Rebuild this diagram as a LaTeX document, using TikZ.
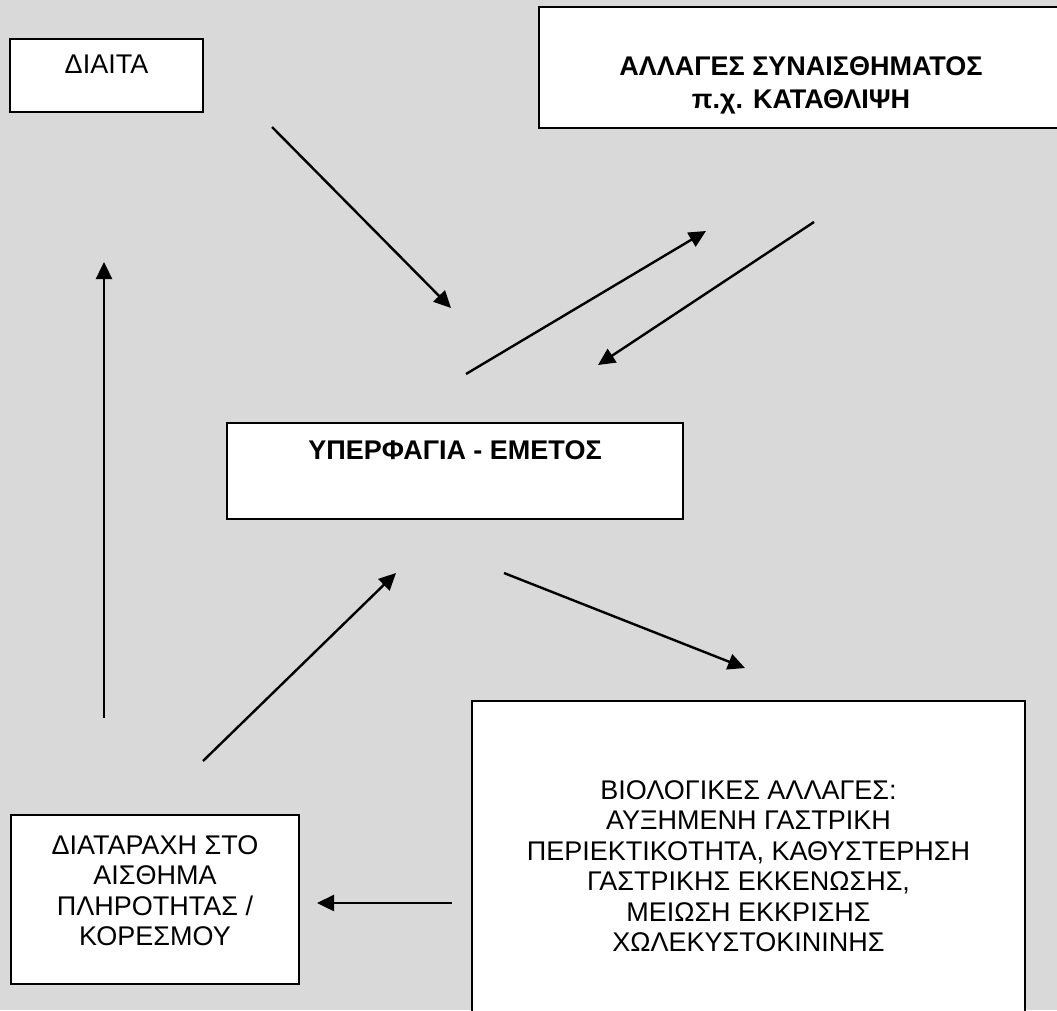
\documentclass[tikz,border=0pt]{standalone}
\usepackage{fontspec}
\setmainfont{Liberation Sans}
\usetikzlibrary{arrows.meta}
\definecolor{bg}{HTML}{D9D9D9}
\begin{document}
\begin{tikzpicture}[x=1pt,y=-1pt,
  box/.style={draw=black,fill=white,line width=2pt,rectangle,inner sep=0pt,outer sep=0pt},
  lbl/.style={inner sep=0pt,anchor=north,align=center,font=\fontsize{27}{30.5}\selectfont},
  blbl/.style={inner sep=0pt,anchor=north,align=center,font=\fontsize{27}{33}\selectfont\bfseries},
  conn/.style={line width=2.4pt,-{Triangle[length=17pt,width=16pt]}}]
\useasboundingbox (0,0) rectangle (1057,1010);
\clip (0,0) rectangle (1057,1010);
\fill[bg] (0,0) rectangle (1057,1010);
% boxes
\node[box,minimum width=193pt,minimum height=73pt] (diet) at (106.5,75.5) {};
\node[box,minimum width=526pt,minimum height=121pt] (emot) at (802,67.5) {};
\node[box,minimum width=456pt,minimum height=96pt] (binge) at (455,471) {};
\node[box,minimum width=553pt,minimum height=324pt] (bio) at (748.5,863) {};
\node[box,minimum width=288pt,minimum height=169pt] (sati) at (155,899.5) {};
% texts
\node[lbl] (dietT) at (106.5,55) {ΔΙΑΙΤΑ};
\node[blbl] (emotT) at (801,56) {ΑΛΛΑΓΕΣ ΣΥΝΑΙΣΘΗΜΑΤΟΣ\\π.χ. ΚΑΤΑΘΛΙΨΗ};
\node[blbl] (bingeT) at (455,440) {ΥΠΕΡΦΑΓΙΑ - ΕΜΕΤΟΣ};
\node[lbl] (bioT) at (748.5,780) {ΒΙΟΛΟΓΙΚΕΣ ΑΛΛΑΓΕΣ:\\ΑΥΞΗΜΕΝΗ ΓΑΣΤΡΙΚΗ\\ΠΕΡΙΕΚΤΙΚΟΤΗΤΑ, ΚΑΘΥΣΤΕΡΗΣΗ\\ΓΑΣΤΡΙΚΗΣ ΕΚΚΕΝΩΣΗΣ,\\ΜΕΙΩΣΗ ΕΚΚΡΙΣΗΣ\\ΧΩΛΕΚΥΣΤΟΚΙΝΙΝΗΣ};
\node[lbl] (satiT) at (155,835) {ΔΙΑΤΑΡΑΧΗ ΣΤΟ\\ΑΙΣΘΗΜΑ\\ΠΛΗΡΟΤΗΤΑΣ /\\ΚΟΡΕΣΜΟΥ};
% connector ends
\coordinate (a1s) at (272,127);  \coordinate (a1e) at (451,308);
\coordinate (a2s) at (466,374);  \coordinate (a2e) at (706,231);
\coordinate (a3s) at (814,222);  \coordinate (a3e) at (598,365);
\coordinate (a4s) at (504,573);  \coordinate (a4e) at (745,668);
\coordinate (a5s) at (203,761);  \coordinate (a5e) at (396,573);
\coordinate (a6s) at (104,718);  \coordinate (a6e) at (104,262);
\coordinate (a7s) at (452,903);  \coordinate (a7e) at (317,903);
\draw[conn] (a1s) -- (a1e);
\draw[conn] (a2s) -- (a2e);
\draw[conn] (a3s) -- (a3e);
\draw[conn] (a4s) -- (a4e);
\draw[conn] (a5s) -- (a5e);
\draw[conn] (a6s) -- (a6e);
\draw[conn] (a7s) -- (a7e);
\end{tikzpicture}
\end{document}
